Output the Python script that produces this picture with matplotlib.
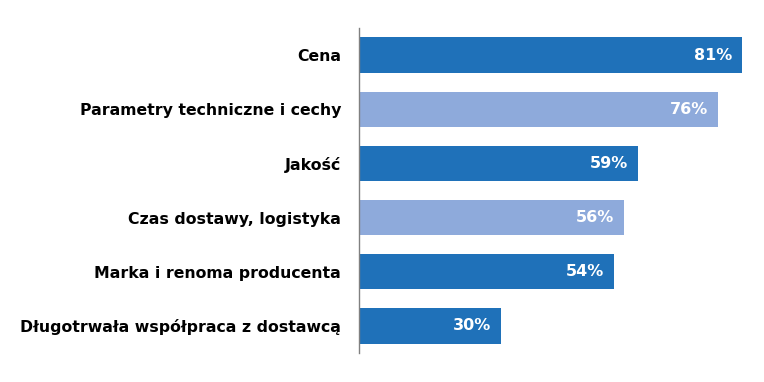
import matplotlib
matplotlib.use("Agg")
import matplotlib.pyplot as plt

categories = ["Cena", "Parametry techniczne i cechy", "Jakość", "Czas dostawy, logistyka",
              "Marka i renoma producenta", "Długotrwała współpraca z dostawcą"]
values = [81, 76, 59, 56, 54, 30]
colors = ["#1f71b9", "#8eaadb", "#1f71b9", "#8eaadb", "#1f71b9", "#1f71b9"]

plt.rcParams['font.family'] = ['DejaVu Sans']

fig = plt.figure(figsize=(7.64, 3.82), dpi=100)
ax = fig.add_axes([359/764, 1-353/382, 1-359/764, (353-28)/382])
y = list(range(len(categories)))
ax.barh(y, values, height=0.65, color=colors, edgecolor="none")
for yi, v in zip(y, values):
    ax.text(v - 2.1, yi, f"{v}%", ha="right", va="center", color="white",
            fontsize=11.5, fontweight="bold")
ax.set_ylim(5.5, -0.5)
ax.set_xlim(0, (764-359)/4.73)
ax.set_yticks(y)
ax.set_yticklabels(categories, fontsize=11.3, fontweight="bold")
ax.tick_params(axis="y", length=0, pad=13)
ax.set_xticks([])
for s in ["top", "right", "bottom"]:
    ax.spines[s].set_visible(False)
ax.spines["left"].set_color("#808080")
ax.spines["left"].set_linewidth(1)
fig.savefig("out.png", dpi=100)
